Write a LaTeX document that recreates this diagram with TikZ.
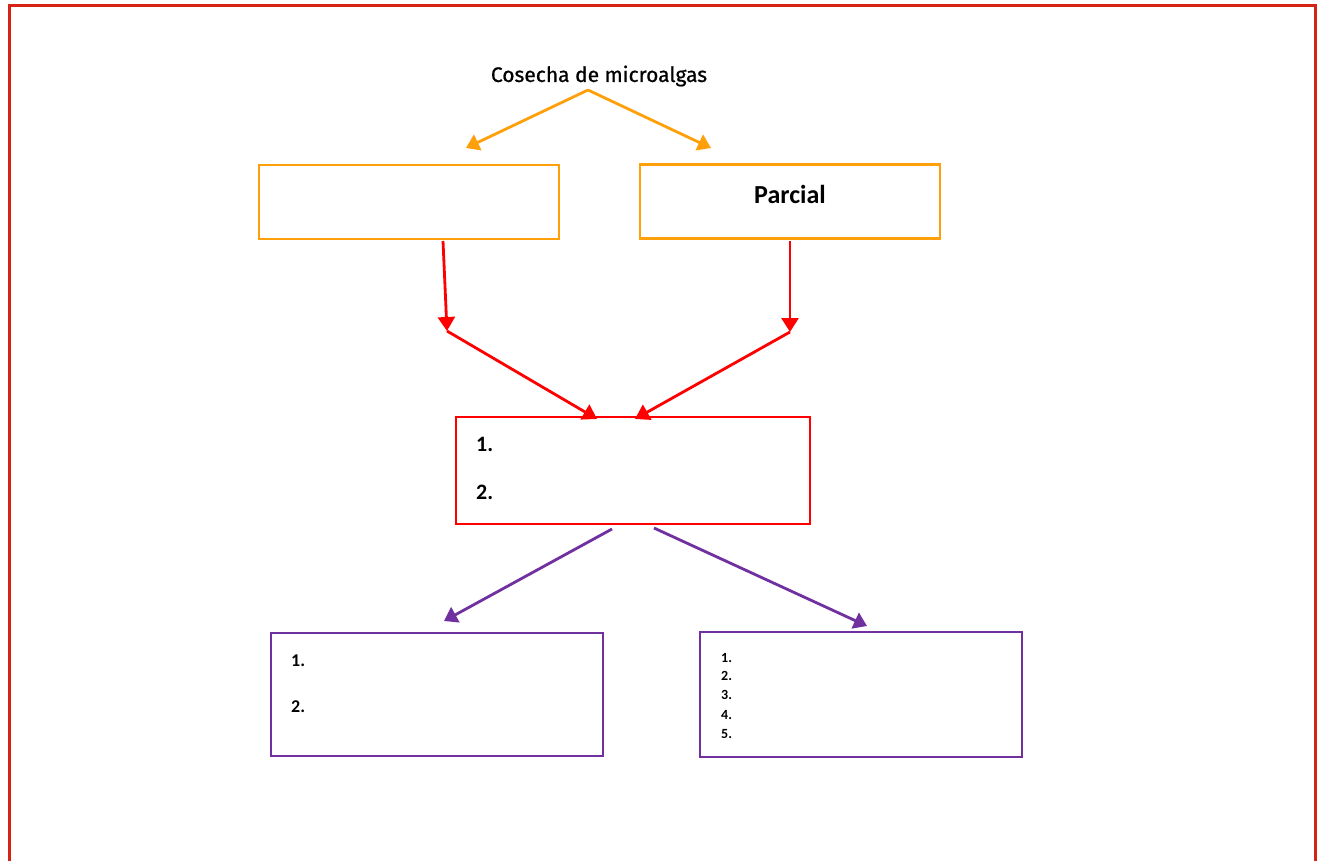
\documentclass[tikz,border=0pt]{standalone}
\usepackage{fontspec}
\setmainfont{Carlito}
\newfontfamily\titlefont[FakeBold=0.8]{Fira Sans}
\usetikzlibrary{arrows.meta}
\definecolor{frameRed}{RGB}{215,35,20}
\definecolor{orng}{RGB}{255,160,10}
\definecolor{rd}{RGB}{255,0,0}
\definecolor{purp}{RGB}{112,48,160}
\begin{document}
\begin{tikzpicture}[x=1pt,y=-1pt,
  boxO/.style={draw=orng,line width=2.8pt,minimum width=300pt,minimum height=74pt,inner sep=0pt},
  boxR/.style={draw=rd,line width=2.8pt,minimum width=354pt,minimum height=107pt,inner sep=0pt},
  boxP/.style={draw=purp,line width=2.8pt,inner sep=0pt},
  arO/.style={draw=orng,line width=2.8pt,-{Triangle[length=13pt,width=17pt]}},
  arR/.style={draw=rd,line width=2.8pt,-{Triangle[length=14pt,width=17pt]}},
  arP/.style={draw=purp,line width=2.8pt,-{Triangle[length=13pt,width=17pt]}},
  lbl/.style={font=\bfseries,anchor=west,inner sep=0pt}
]
\useasboundingbox (0,0) rectangle (1317,861);
\fill[white] (0,0) rectangle (1317,861);
\draw[frameRed,line width=3pt] (9,861) -- (9,6) -- (1315,6) -- (1315,861);

\node[font=\titlefont\fontsize{21}{25}\selectfont,inner sep=1pt] (title) at (599,76) {Cosecha de microalgas};
\coordinate (apex) at (588,90);
\coordinate (tL) at (466,148);
\coordinate (tR) at (711,148);
\draw[arO] (apex) -- (tL);
\draw[arO] (apex) -- (tR);

\node[boxO] (bL) at (409,202) {};
\node[boxO] (bR) at (790,201.5) {};
\node[font=\bfseries\fontsize{26}{30}\selectfont] (parc) at (790,194) {Parcial};

\coordinate (sL) at (443,241);
\coordinate (mL) at (447,331);
\coordinate (sR) at (790,241);
\coordinate (mR) at (790,332);
\coordinate (eL) at (597,419);
\coordinate (eR) at (635,419);
\draw[arR] (sL) -- (mL);
\draw[arR] (sR) -- (mR);
\draw[arR] (mL) -- (eL);
\draw[arR] (mR) -- (eR);

\node[boxR] (bC) at (633,470.5) {};
\node[lbl,font=\bfseries\fontsize{22}{26}\selectfont] (c1) at (476,444) {1.};
\node[lbl,font=\bfseries\fontsize{22}{26}\selectfont] (c2) at (476,492) {2.};

\coordinate (pS1) at (612,529);
\coordinate (pS2) at (654,528);
\coordinate (pE1) at (444,621);
\coordinate (pE2) at (867,626);
\draw[arP] (pS1) -- (pE1);
\draw[arP] (pS2) -- (pE2);

\node[boxP,minimum width=332pt,minimum height=123pt] (bPL) at (437,694.5) {};
\node[boxP,minimum width=322pt,minimum height=125pt] (bPR) at (861,694.5) {};
\node[lbl,font=\bfseries\fontsize{18}{21}\selectfont] (l1) at (291,661) {1.};
\node[lbl,font=\bfseries\fontsize{18}{21}\selectfont] (l2) at (291,707) {2.};
\foreach \i/\yy in {1/658,2/676,3/695,4/715,5/734}
  \node[lbl,font=\bfseries\fontsize{14}{16}\selectfont] (r\i) at (721,\yy) {\i.};
\end{tikzpicture}
\end{document}
